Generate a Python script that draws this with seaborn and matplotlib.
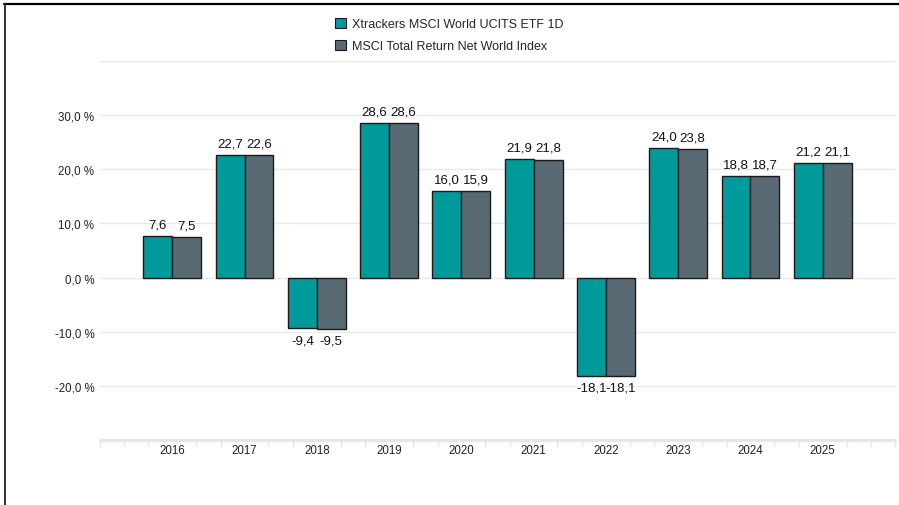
import pandas as pd
import matplotlib.pyplot as plt
from matplotlib.patches import Patch
from matplotlib.lines import Line2D
import seaborn as sns

# data
years = ['2016', '2017', '2018', '2019', '2020', '2021', '2022', '2023', '2024', '2025']
fund_ret = [7.6, 22.7, -9.4, 28.6, 16.0, 21.9, -18.1, 24.0, 18.8, 21.2]
index_ret = [7.5, 22.6, -9.5, 28.6, 15.9, 21.8, -18.1, 23.8, 18.7, 21.1]
series_names = ['Xtrackers MSCI World UCITS ETF 1D', 'MSCI Total Return Net World Index']
y_ticks = [-20, -10, 0, 10, 20, 30]

teal = '#009a9b'
slate = '#5a6a74'

df = pd.DataFrame({
    'year': years * 2,
    'ret': fund_ret + index_ret,
    'series': [series_names[0]] * len(years) + [series_names[1]] * len(years),
})

sns.set_style('white')
plt.rcParams['font.family'] = ['Liberation Sans', 'DejaVu Sans']

fig = plt.figure(figsize=(8.99, 5.06), dpi=100)
ax = fig.add_axes([0.1112, 0.1285, 0.8844, 0.749])

sns.barplot(data=df, x='year', y='ret', hue='series', order=years,
            hue_order=series_names, palette=[teal, slate], width=0.8,
            edgecolor='#1a1a1a', linewidth=1.0, saturation=1, ax=ax,
            legend=False)

# value labels with comma decimals
for cont, vals in zip(ax.containers, [fund_ret, index_ret]):
    ax.bar_label(cont, labels=[('%.1f' % v).replace('.', ',') for v in vals],
                 padding=4, fontsize=9.5, color='#111111')

ax.set_xlim(-1, 10)
ax.set_ylim(-30, 40)
ax.set_yticks(y_ticks)
ax.set_yticklabels([('%.1f %%' % t).replace('.', ',') for t in y_ticks])
ax.set_xlabel('')
ax.set_ylabel('')

# grid
for g in [-20, -10, 0, 10, 20, 30, 40]:
    ax.axhline(g, color='#e8e8e8', lw=1.0, zorder=0)
ax.axhline(-30, color='#e6e6e6', lw=2.2, zorder=0, clip_on=False)

for s in ax.spines.values():
    s.set_visible(False)

ax.tick_params(axis='y', length=0, pad=4, labelsize=8.3, labelcolor='#222222')
ax.tick_params(axis='x', length=0, pad=3, labelsize=8.3, labelcolor='#222222')

# small ticks on the bottom axis around category boundaries
minor = [-1.0]
for k in range(-1, 10):
    minor += [k + 0.5 - 0.17, k + 0.5 + 0.17]
minor.append(10.0)
ax.set_xticks(minor, minor=True)
ax.tick_params(axis='x', which='minor', bottom=True, length=5, width=1.0,
               color='#e6e6e6', direction='out')

handles = [Patch(facecolor=teal, edgecolor='#1a1a1a', lw=0.8),
           Patch(facecolor=slate, edgecolor='#1a1a1a', lw=0.8)]
fig.legend(handles, series_names, loc='upper center', bbox_to_anchor=(0.5, 0.985),
           frameon=False, fontsize=9, handlelength=0.9, handleheight=0.9,
           handletextpad=0.5, labelspacing=0.75)

# thin black frame on top and left edges
fig.add_artist(Line2D([0.0045, 1.0], [0.99, 0.99], color='black', lw=1.6,
                      transform=fig.transFigure))
fig.add_artist(Line2D([0.0055, 0.0055], [0.0, 0.99], color='#333333', lw=1.4,
                      transform=fig.transFigure))

fig.savefig('out.png', dpi=100)
